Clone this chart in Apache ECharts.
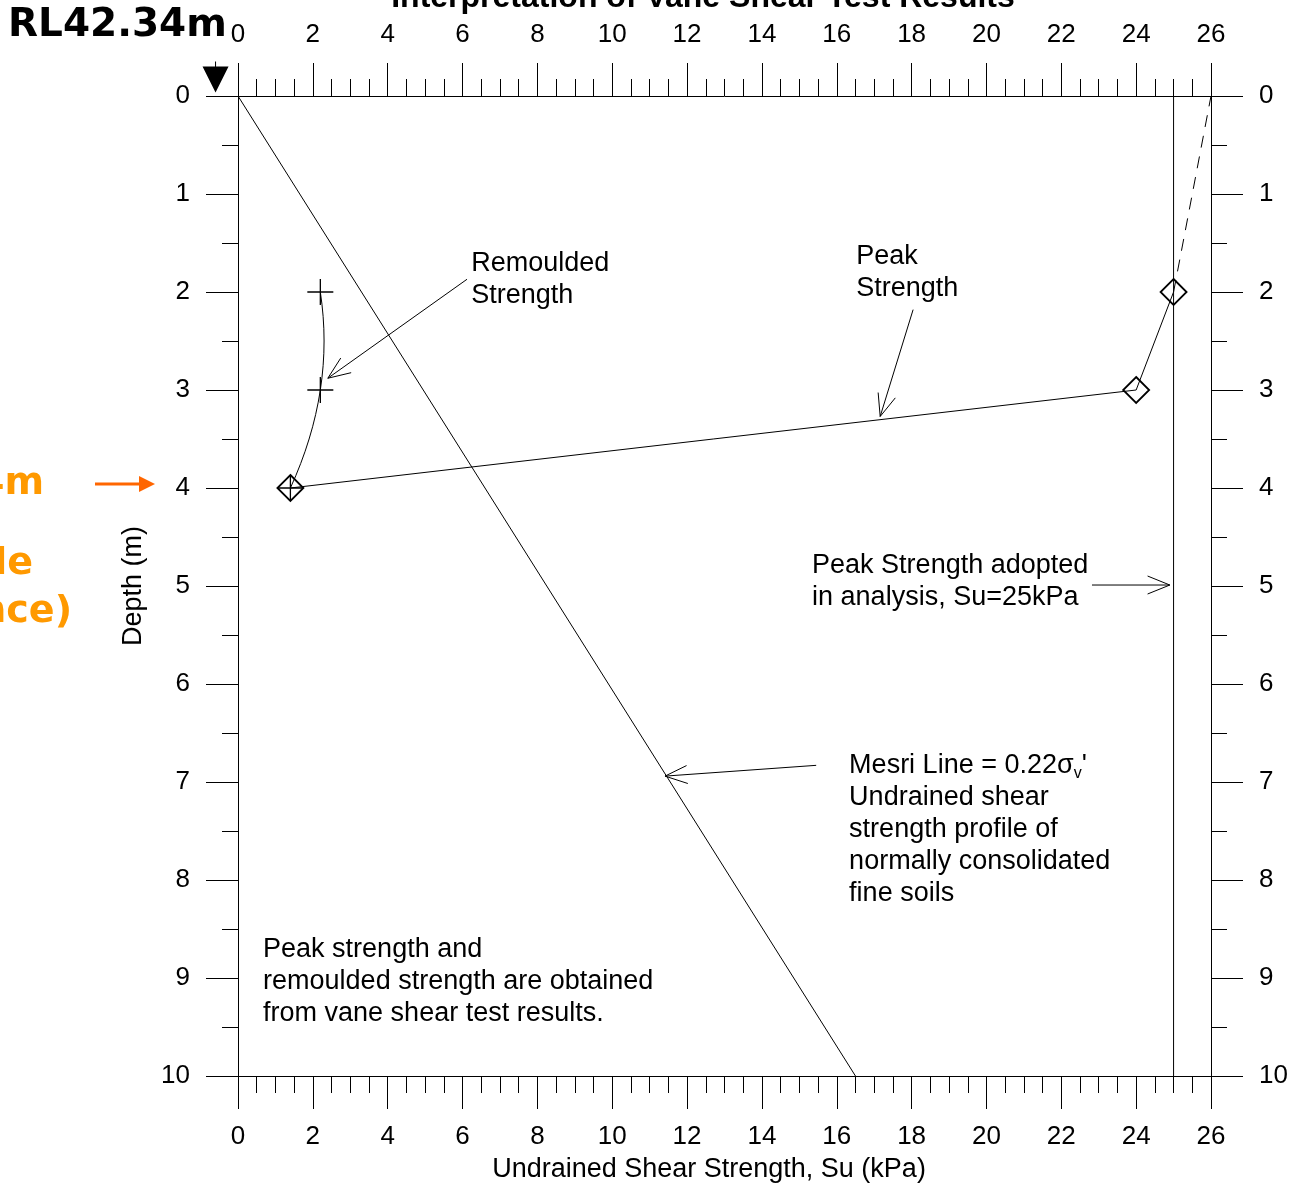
<!DOCTYPE html>
<html>
<head>
<meta charset="utf-8">
<script src="https://cdn.jsdelivr.net/npm/echarts@6/dist/echarts.min.js"></script>
<style>
html, body { margin: 0; padding: 0; background: #fff; }
#graph { width: 1292px; height: 1184px; }
</style>
</head>
<body>
<div id="graph"></div>
<script>
// data (Su in kPa, depth in m)
var mesriSu = [0, 16.5];
var mesriDepth = [0, 10];
var peakSu = [1.4, 24, 25];
var peakDepth = [4, 3, 2];
var peakExtSu = [25, 26];
var peakExtDepth = [2, 0];
var remouldSu = [2.2, 2.2, 1.4];
var remouldDepth = [2, 3, 4];
var adoptedSu = [25, 25];
var adoptedDepth = [0, 10];
var groundSu = [-0.6];
var groundDepth = [0];

// annotation texts, anchored in data units (top-left of the text block)
var noteText = [
  'Remoulded\nStrength',
  'Peak\nStrength',
  'Peak Strength adopted\nin analysis, Su=25kPa',
  '{t|Mesri Line = 0.22σ}{s|v}{t|\'}\n{t|Undrained shear}\n{t|strength profile of}\n{t|normally consolidated}\n{t|fine soils}',
  'Peak strength and\nremoulded strength are obtained\nfrom vane shear test results.'
];
var noteSu = [6.23, 16.52, 15.34, 16.33, 0.67];
var noteDepth = [1.55, 1.47, 4.63, 6.67, 8.55];

// leader arrows: [fromSu, fromDepth, toSu, toDepth]
var arrows = [
  [6.12, 1.87, 2.4, 2.88],
  [18.04, 2.18, 17.16, 3.27],
  [22.82, 4.99, 24.9, 4.99],
  [15.45, 6.83, 11.41, 6.94]
];

function zip(a, b) {
  return a.map(function (v, i) { return [v, b[i]]; });
}

var FONT = '"Liberation Sans", Arial, sans-serif';
var BOLD = '"DejaVu Sans", Verdana, sans-serif';

var chartDom = document.getElementById('graph');
var myChart = echarts.init(chartDom);
var option;

function xAxisCfg(pos) {
  return {
    type: 'value',
    position: pos,
    min: 0,
    max: 26,
    interval: 2,
    axisLine: { show: true, onZero: false, lineStyle: { color: '#000', width: 1 } },
    axisTick: { show: true, length: 33, lineStyle: { color: '#000', width: 1 } },
    minorTick: { show: true, splitNumber: 4, length: 17, lineStyle: { color: '#000', width: 1 } },
    splitLine: { show: false },
    axisLabel: { margin: 48, fontSize: 26, color: '#000', fontFamily: FONT, showMinLabel: true, showMaxLabel: true }
  };
}

function yAxisCfg(pos) {
  return {
    type: 'value',
    position: pos,
    inverse: true,
    min: 0,
    max: 10,
    interval: 1,
    axisLine: { show: true, onZero: false, lineStyle: { color: '#000', width: 1 } },
    axisTick: { show: true, length: 32, lineStyle: { color: '#000', width: 1 } },
    minorTick: { show: true, splitNumber: 2, length: 16, lineStyle: { color: '#000', width: 1 } },
    splitLine: { show: false },
    axisLabel: { margin: 48, fontSize: 26, color: '#000', fontFamily: FONT, showMinLabel: true, showMaxLabel: true }
  };
}

var yLeft = yAxisCfg('left');
yLeft.name = 'Depth (m)';
yLeft.nameLocation = 'middle';
yLeft.nameGap = 91;
yLeft.nameTextStyle = { fontSize: 27, color: '#000', fontFamily: FONT };

// parabolic spline through three points (Catmull-Rom inside, quadratic ends)
function splineSegments(pts) {
  var p0 = pts[0], p1 = pts[1], p2 = pts[2];
  var t1 = [(p2[0] - p0[0]) / 2, (p2[1] - p0[1]) / 2];
  var t0 = [2 * (p1[0] - p0[0]) - t1[0], 2 * (p1[1] - p0[1]) - t1[1]];
  var t2 = [2 * (p2[0] - p1[0]) - t1[0], 2 * (p2[1] - p1[1]) - t1[1]];
  return [
    { x1: p0[0], y1: p0[1], cpx1: p0[0] + t0[0] / 3, cpy1: p0[1] + t0[1] / 3,
      cpx2: p1[0] - t1[0] / 3, cpy2: p1[1] - t1[1] / 3, x2: p1[0], y2: p1[1] },
    { x1: p1[0], y1: p1[1], cpx1: p1[0] + t1[0] / 3, cpy1: p1[1] + t1[1] / 3,
      cpx2: p2[0] - t2[0] / 3, cpy2: p2[1] - t2[1] / 3, x2: p2[0], y2: p2[1] }
  ];
}

var remouldData = zip(remouldSu, remouldDepth);

option = {
  animation: false,
  backgroundColor: '#fff',
  grid: { left: 238, right: 81, top: 96, bottom: 108 },
  xAxis: [xAxisCfg('bottom'), xAxisCfg('top')],
  yAxis: [yLeft, yAxisCfg('right')],
  graphic: [
    {
      type: 'text',
      style: { text: 'Interpretation of Vane Shear Test Results', x: 703, y: 14, align: 'center', verticalAlign: 'bottom',
        font: 'bold 32px ' + FONT, fill: '#000' }
    },
    {
      type: 'text',
      style: { text: 'RL42.34m', x: 8, y: 45, align: 'left', verticalAlign: 'bottom', font: 'bold 39px ' + BOLD, fill: '#000' }
    },
    {
      type: 'text',
      style: { text: 'Undrained Shear Strength, Su (kPa)', x: 709, y: 1170, align: 'center', verticalAlign: 'middle',
        font: '27px ' + FONT, fill: '#000' }
    },
    {
      type: 'text',
      style: { text: 'RL38.34m', x: 44, y: 503, align: 'right', verticalAlign: 'bottom', font: 'bold 38px ' + BOLD, fill: '#FF9900' }
    },
    {
      type: 'text',
      style: { text: 'Middle', x: 33, y: 583, align: 'right', verticalAlign: 'bottom', font: 'bold 38px ' + BOLD, fill: '#FF9900' }
    },
    {
      type: 'text',
      style: { text: '(Fence)', x: 72, y: 631, align: 'right', verticalAlign: 'bottom', font: 'bold 38px ' + BOLD, fill: '#FF9900' }
    },
    {
      type: 'line',
      shape: { x1: 95, y1: 484, x2: 142, y2: 484 },
      style: { stroke: '#FF6600', lineWidth: 3 }
    },
    {
      type: 'polygon',
      shape: { points: [[139, 476], [155, 484], [139, 492]] },
      style: { fill: '#FF6600' }
    }
  ],
  series: [
    {
      name: 'Mesri',
      type: 'line',
      data: zip(mesriSu, mesriDepth),
      symbol: 'none',
      lineStyle: { color: '#000', width: 1 }
    },
    {
      name: 'Adopted',
      type: 'line',
      data: zip(adoptedSu, adoptedDepth),
      symbol: 'none',
      lineStyle: { color: '#000', width: 1 }
    },
    {
      name: 'Peak extension',
      type: 'line',
      data: zip(peakExtSu, peakExtDepth),
      symbol: 'none',
      lineStyle: { color: '#000', width: 1, type: [12, 9] }
    },
    {
      name: 'Peak',
      type: 'line',
      data: zip(peakSu, peakDepth),
      symbol: 'diamond',
      symbolSize: 26,
      showAllSymbol: true,
      itemStyle: { color: 'rgba(0,0,0,0)', borderColor: '#000', borderWidth: 1.8 },
      lineStyle: { color: '#000', width: 1 }
    },
    {
      name: 'Remoulded',
      type: 'scatter',
      data: remouldData,
      symbol: 'path://M0,10L20,10M10,0L10,20',
      symbolSize: 26,
      itemStyle: { color: 'rgba(0,0,0,0)', borderColor: '#000', borderWidth: 1.3, opacity: 1 }
    },
    {
      name: 'Remoulded curve',
      type: 'custom',
      silent: true,
      data: [remouldData[0]],
      renderItem: function (params, api) {
        var pts = remouldData.map(function (d) { return api.coord(d); });
        return {
          type: 'group',
          children: splineSegments(pts).map(function (seg) {
            return { type: 'bezierCurve', shape: seg, style: { stroke: '#000', lineWidth: 1, fill: null } };
          })
        };
      }
    },
    {
      name: 'Ground',
      type: 'scatter',
      clip: false,
      data: zip(groundSu, groundDepth),
      symbol: 'path://M0,5L26,5L13,31Z M12.5,0L13.5,0L13.5,5L12.5,5Z',
      symbolSize: [26, 31],
      symbolOffset: [0, -19],
      itemStyle: { color: '#000', opacity: 1 }
    },
    {
      name: 'Notes',
      type: 'custom',
      silent: true,
      data: zip(noteSu, noteDepth),
      renderItem: function (params, api) {
        var p = api.coord([api.value(0), api.value(1)]);
        return {
          type: 'text',
          x: p[0],
          y: p[1],
          style: {
            text: noteText[params.dataIndex],
            fill: '#000',
            font: '27px ' + FONT,
            align: 'left',
            verticalAlign: 'top',
            lineHeight: 32,
            rich: {
              t: { fontSize: 27, fontFamily: FONT, lineHeight: 32, color: '#000' },
              s: { fontSize: 16, fontFamily: FONT, lineHeight: 16, verticalAlign: 'bottom', color: '#000' }
            }
          }
        };
      }
    },
    {
      name: 'Arrows',
      type: 'custom',
      silent: true,
      data: arrows,
      encode: { x: [0, 2], y: [1, 3] },
      renderItem: function (params, api) {
        var a = api.coord([api.value(0), api.value(1)]);
        var b = api.coord([api.value(2), api.value(3)]);
        var dx = a[0] - b[0], dy = a[1] - b[1];
        var len = Math.sqrt(dx * dx + dy * dy);
        var ux = dx / len, uy = dy / len;
        var ang = 22 * Math.PI / 180, hl = 24;
        var c = Math.cos(ang), s = Math.sin(ang);
        var w1 = [b[0] + hl * (ux * c - uy * s), b[1] + hl * (ux * s + uy * c)];
        var w2 = [b[0] + hl * (ux * c + uy * s), b[1] + hl * (-ux * s + uy * c)];
        return {
          type: 'group',
          children: [
            { type: 'line', shape: { x1: a[0], y1: a[1], x2: b[0], y2: b[1] }, style: { stroke: '#000', lineWidth: 1 } },
            { type: 'polyline', shape: { points: [w1, b, w2] }, style: { stroke: '#000', lineWidth: 1, fill: null } }
          ]
        };
      }
    }
  ]
};

option && myChart.setOption(option);
</script>
</body>
</html>
